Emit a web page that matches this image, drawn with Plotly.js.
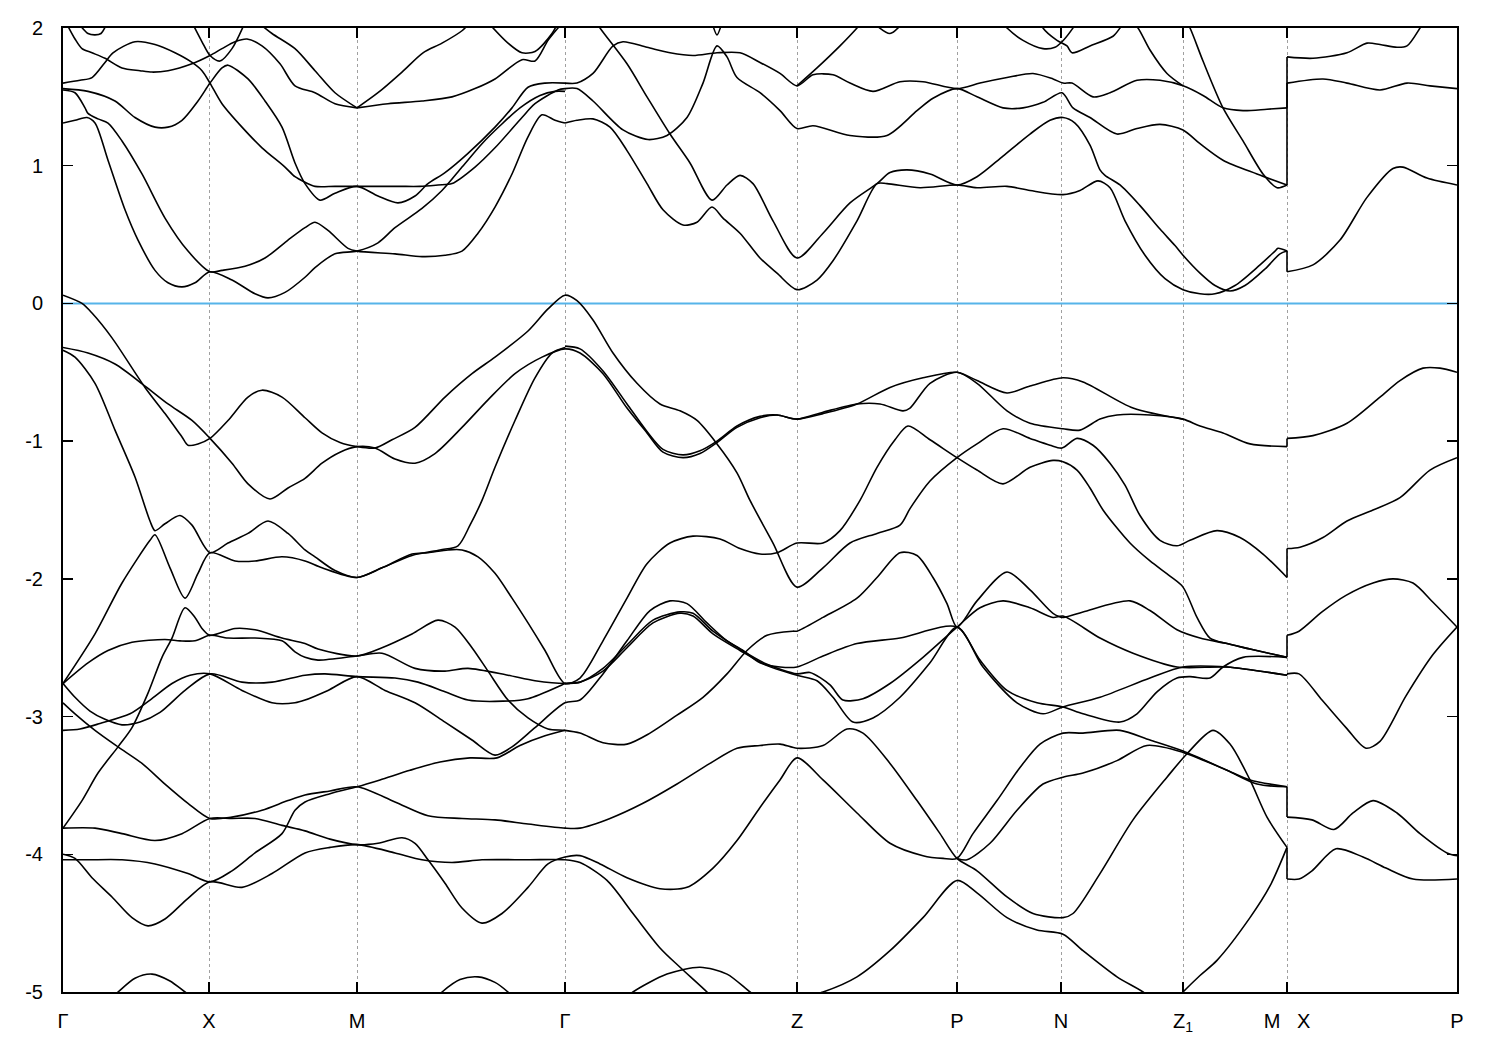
<!DOCTYPE html>
<html><head><meta charset="utf-8">
<script src="https://cdn.plot.ly/plotly-3.0.1.min.js"></script>
<style>body{margin:0;background:#fff}#plot{width:1500px;height:1050px}</style>
</head><body><div id="plot"></div>
<script>
// high-symmetry path (k in arbitrary path-length units)
const kTicks = [0,146,294,502,734,894,998,1120,1224,1394];
const kLabels = ['Γ','X','M','Γ','Z','P','N','Z<sub>1</sub>','M\u00a0\u00a0\u00a0X','P'];
const eTicks = [2,1,0,-1,-2,-3,-4,-5];
const eLabels = ['2','1','0','-1','-2','-3','-4','-5'];
const fermiE = 0;

// band curves: k-points and energies (eV)
const bandK = [
 [17,25,32,38,43],
 [3,12,19,29,42,59,77,89,105,129,147,159,172,184,199,217,232,252,272,294],
 [129,139,147,157,169,182],
 [195,209,232,252,272,294],
 [0,17,29,42,50,72,92,112,129,139,147,159,179,199,222,232,242,252,272,294,317,337,357,375,389,412,432,459,472,495,502],
 [0,25,52,72,92,105,119,135,147,159,165,185,202,219,232,242,257,272,294,315,335,352,365,382,405,432,449,465,482,502],
 [0,12,22,25,35,45,59,79,102,125,147,159,182,202,225,242,252,265,285,294,332,359,382,399,415,432,449,465,479,492,502],
 [0,12,24,32,45,62,75,92,105,119,132,147,169,192,205,222,242,252,272,294,315,332,359,379,399,419,437,457,477,492,502],
 [294,315,339,360,379,399,407],
 [294,325,359,389,412,432,459,472,485,495,502],
 [425,445,459,472,489,495],
 [502,514,530,550,560,584,607,630,654,677,697,717,734,750,770,787,810,837,860,894,917,944,970,990,1000,1009,1030,1047,1074,1097,1120,1140,1160,1180,1204,1224,1224,1260,1284,1317,1344,1367,1394],
 [502,514,530,560,585,604,624,640,654,664,674,697,717,734,750,787,824,854,870,894,914,940,960,980,999,1010,1027,1054,1074,1097,1120,1137,1160,1194,1224,1224,1250,1284,1304,1317,1334,1344,1357,1362],
 [649,654,659],
 [502,514,530,547,564,584,600,620,634,649,660,677,697,714,734,754,770,794,814,824,857,894,914,944,967,1000,1017,1035,1047,1062,1082,1102,1120,1137,1152,1172,1197,1212,1215,1224,1224,1250,1277,1304,1330,1340,1364,1394],
 [529,537,564,584,607,627,649,664,677,690,710,734,760,787,814,827,844,867,894,914,940,967,987,1000,1012,1027,1037,1042,1057,1077,1097,1112,1120,1137,1152,1167,1182,1202,1217,1224],
 [734,754,777,794,802],
 [810,827,840],
 [937,944,960,980,992,999,1009,1015],
 [977,980,994,1004,1009,1027,1050,1057,1062],
 [1067,1075,1087,1104,1120],
 [1120,1127,1140,1160,1180,1200,1214,1224],
 // valence
 [0,19,29,49,82,102,119,125,135,147,165,185,199,219,242,259,277,294,312,329,352,382,409,432,465,485,502,514,530,550,574,597,617,634,654,674,687,710,734,760,787,814,837,847,867,894,914,940,967,987,999,1014,1030,1047,1062,1077,1097,1114,1127,1154,1177,1200,1224,1224,1237,1260,1284,1310,1337,1367,1394],
 [0,25,52,82,105,129,147,169,185,207,225,242,259,277,294,312,332,352,372,399,425,452,479,502,517,540,564,584,600,620,637,654,674,697,714,734,760,794,817,840,847,867,894,914,944,967,1000,1017,1037,1054,1087,1120,1137,1160,1187,1224,1224,1250,1284,1317,1337,1360,1377,1394],
 [502,517,540,564,584,600,620,637,654,674,697,714,734,760,794,827,860,894,914,944,967,1000,1020,1070,1120],
 [0,12,32,52,72,87,92,102,117,129,147,165,185,205,225,242,252,272,294,319,349,377,395,407,419,432,452,472,489,502],
 [0,32,59,87,92,107,122,135,147,172,192,219,242,259,294,319,349,365,385,399,415,432,449,465,482,502,517,540,564,584,607,630,657,677,697,714,734,760,777,797,814,832,845,867,894,914,940,967,990,1000,1014,1027,1040,1067,1087,1107,1120,1134,1147,1164,1187,1224,1224,1236,1259,1283,1310,1330,1350,1370,1394],
 [0,19,35,55,69,85,99,109,122,132,139,147,172,192,219,242,255,294,319,349,375,392,409,425,445,465,485,502,517,540,564,587,614,640,664,684,704,730,734,760,794,814,837,854,870,884,894,914,944,967,990,1000,1020,1067,1087,1114,1137,1164,1187,1224],
 [0,25,45,69,102,117,132,147,165,192,219,232,242,255,294,319,352,382,405,445,472,502,517,540,564,590,617,630,650,677,704,734,754,770,790,810,837,867,894,917,944,974,1000,1020,1057,1074,1094,1114,1127,1147,1160,1180,1224],
 [0,12,27,42,59,77,97,122,147,179,209,242,262,294,332,355,382,405,432,465,499,502,517,540,564,590,617,630,650,677,704,734,747,767,780,800,827,860,894,917,940,967,990,1000,1037,1070,1114,1164,1224,1224,1236,1259,1283,1303,1317,1343,1370,1394],
 [0,17,37,67,87,109,127,147,179,209,232,242,265,294,322,352,382,409,432,449,472,502,517,540,564,587,607,624,644,664,680,697,717,734,760,794,837,894,920,954,980,1000,1037,1087,1120,1164,1224],
 [0,12,32,55,79,102,125,147,169,199,225,242,267,294,332,365,399,432,465,502,517,547,580,614,647,674,697,717,734,760,784,800,827,854,877,894,914,944,970,1000,1010,1037,1070,1104,1124,1150,1167,1187,1204,1224,1224,1236,1249,1273,1300,1323,1350,1394],
 [0,32,59,92,119,147,169,192,219,242,267,294,315,339,352,365,382,399,419,439,465,485,502,517,537,564,597,624,650,674,697,717,734,760,794,827,860,880,894,910,934,957,977,1000,1020,1057,1087,1120,1164,1194,1224,1224,1249,1271,1290,1310,1334,1357,1384,1394],
 [0,12,29,49,69,85,102,125,147,179,209,242,267,294,332,359,389,419,465,502,517,544,570,597,617,644,657],
 [0,25,59,92,125,147,169,192,219,232,242,267,294,317,347,377,407,434,457,482,502],
 [727,760,794,827,860,894,914,944,974,1000,1020,1054,1080,1097],
 [894,904,927,954,980,1000,1020,1054,1084,1120,1164,1187,1224],
 [1107,1120,1137,1154,1187,1207,1224],
 [47,55,72,89,107,122,132],
 [372,379,397,415,432,445,452],
 [562,570,604,637,664,687,697]
];
const bandE = [
 [2.02,1.96,1.95,1.96,2.02],
 [2.04,1.92,1.85,1.82,1.78,1.71,1.69,1.68,1.69,1.74,1.80,1.85,1.90,1.92,1.87,1.74,1.58,1.53,1.45,1.42],
 [2.04,1.90,1.80,1.76,1.85,2.04],
 [2.04,1.96,1.85,1.69,1.53,1.42],
 [1.60,1.62,1.64,1.75,1.82,1.90,1.88,1.82,1.75,1.69,1.60,1.45,1.28,1.13,0.99,0.92,0.88,0.85,0.85,0.85,0.85,0.85,0.85,0.86,0.87,0.99,1.13,1.35,1.45,1.55,1.56],
 [1.56,1.54,1.47,1.35,1.28,1.28,1.33,1.47,1.60,1.71,1.73,1.63,1.47,1.28,1.02,0.87,0.75,0.80,0.85,0.78,0.73,0.78,0.87,0.95,1.09,1.28,1.42,1.57,1.60,1.60],
 [1.55,1.53,1.42,1.38,1.34,1.31,1.18,0.94,0.62,0.38,0.23,0.24,0.27,0.33,0.46,0.55,0.59,0.53,0.40,0.38,0.36,0.34,0.35,0.38,0.51,0.70,0.94,1.21,1.37,1.33,1.31],
 [1.31,1.33,1.35,1.31,1.04,0.68,0.46,0.24,0.15,0.12,0.15,0.23,0.17,0.07,0.04,0.08,0.19,0.26,0.36,0.38,0.44,0.55,0.69,0.82,0.99,1.16,1.29,1.42,1.51,1.54,1.54],
 [1.42,1.53,1.68,1.82,1.89,1.98,2.04],
 [1.42,1.45,1.47,1.50,1.56,1.63,1.77,1.76,1.91,2.00,2.06],
 [2.04,1.89,1.82,1.83,1.96,2.04],
 [1.60,1.60,1.67,1.87,1.90,1.86,1.82,1.80,1.82,1.82,1.75,1.67,1.58,1.66,1.66,1.60,1.54,1.61,1.61,1.56,1.60,1.64,1.67,1.63,1.60,1.60,1.50,1.53,1.62,1.62,1.58,1.51,1.42,1.40,1.41,1.42,1.60,1.63,1.60,1.55,1.60,1.58,1.56],
 [1.56,1.56,1.47,1.26,1.19,1.22,1.35,1.60,1.87,1.79,1.64,1.53,1.40,1.27,1.29,1.22,1.22,1.40,1.49,1.56,1.50,1.42,1.42,1.46,1.53,1.42,1.35,1.23,1.27,1.30,1.26,1.16,1.04,0.94,0.86,1.79,1.78,1.82,1.89,1.88,1.86,1.87,2.00,2.06],
 [2.04,1.95,2.04],
 [1.31,1.33,1.34,1.28,1.11,0.87,0.68,0.57,0.59,0.70,0.62,0.51,0.33,0.22,0.10,0.17,0.31,0.60,0.87,0.87,0.84,0.86,0.84,0.85,0.82,0.79,0.82,0.89,0.84,0.60,0.35,0.18,0.10,0.07,0.07,0.13,0.28,0.38,0.40,0.38,0.23,0.28,0.46,0.77,0.98,0.99,0.91,0.86],
 [2.09,2.00,1.74,1.50,1.23,1.02,0.75,0.86,0.93,0.87,0.60,0.33,0.51,0.73,0.87,0.95,0.97,0.94,0.86,0.92,1.07,1.23,1.33,1.35,1.31,1.15,0.97,0.93,0.86,0.71,0.54,0.42,0.35,0.22,0.13,0.09,0.13,0.25,0.36,0.38],
 [1.58,1.71,1.87,2.00,2.07],
 [2.04,1.96,2.04],
 [2.06,2.00,1.91,1.85,1.86,1.90,1.99,2.06],
 [2.06,2.00,1.91,1.87,1.82,1.87,1.94,2.00,2.06],
 [2.06,2.00,1.84,1.67,1.58],
 [2.09,2.00,1.76,1.42,1.18,0.94,0.84,0.86],
 // valence
 [0.06,0.00,-0.07,-0.25,-0.61,-0.80,-0.97,-1.03,-1.02,-0.98,-0.85,-0.68,-0.63,-0.68,-0.83,-0.94,-1.01,-1.04,-1.05,-0.99,-0.90,-0.68,-0.51,-0.39,-0.20,-0.04,0.06,0.02,-0.12,-0.36,-0.58,-0.73,-0.78,-0.85,-1.02,-1.23,-1.43,-1.74,-2.06,-1.92,-1.74,-1.67,-1.61,-1.49,-1.29,-1.12,-1.02,-0.91,-0.98,-1.03,-1.05,-0.98,-1.03,-1.16,-1.32,-1.54,-1.72,-1.76,-1.72,-1.65,-1.70,-1.82,-1.99,-1.78,-1.77,-1.70,-1.58,-1.50,-1.41,-1.21,-1.12],
 [-0.32,-0.36,-0.44,-0.60,-0.73,-0.85,-0.98,-1.16,-1.31,-1.42,-1.34,-1.27,-1.16,-1.08,-1.04,-1.05,-1.13,-1.16,-1.09,-0.90,-0.70,-0.51,-0.39,-0.33,-0.36,-0.51,-0.76,-0.94,-1.08,-1.12,-1.09,-1.01,-0.90,-0.83,-0.81,-0.84,-0.79,-0.73,-0.73,-0.78,-0.76,-0.58,-0.50,-0.58,-0.78,-0.87,-0.91,-0.92,-0.84,-0.81,-0.81,-0.84,-0.89,-0.94,-1.02,-1.04,-0.98,-0.96,-0.87,-0.68,-0.56,-0.47,-0.47,-0.50],
 [-0.31,-0.33,-0.49,-0.73,-0.93,-1.06,-1.10,-1.07,-1.00,-0.89,-0.82,-0.81,-0.84,-0.80,-0.73,-0.61,-0.54,-0.50,-0.56,-0.65,-0.60,-0.54,-0.57,-0.76,-0.84],
 [-0.34,-0.39,-0.58,-0.92,-1.26,-1.58,-1.65,-1.60,-1.54,-1.61,-1.81,-1.74,-1.67,-1.58,-1.67,-1.79,-1.84,-1.94,-1.99,-1.92,-1.83,-1.79,-1.76,-1.61,-1.43,-1.19,-0.85,-0.54,-0.36,-0.32],
 [-2.76,-2.40,-2.03,-1.72,-1.68,-1.92,-2.14,-1.96,-1.81,-1.87,-1.87,-1.84,-1.87,-1.92,-1.99,-1.92,-1.82,-1.81,-1.79,-1.79,-1.84,-1.96,-2.14,-2.32,-2.52,-2.76,-2.72,-2.45,-2.14,-1.89,-1.74,-1.69,-1.71,-1.78,-1.82,-1.81,-1.74,-1.74,-1.65,-1.43,-1.19,-0.99,-0.89,-0.99,-1.12,-1.21,-1.31,-1.19,-1.14,-1.15,-1.21,-1.34,-1.50,-1.74,-1.87,-1.98,-2.06,-2.28,-2.43,-2.47,-2.51,-2.57,-2.41,-2.38,-2.24,-2.12,-2.03,-2.00,-2.03,-2.17,-2.35],
 [-3.81,-3.61,-3.41,-3.22,-3.08,-2.83,-2.57,-2.43,-2.21,-2.28,-2.36,-2.41,-2.36,-2.37,-2.43,-2.47,-2.51,-2.56,-2.50,-2.40,-2.30,-2.35,-2.50,-2.67,-2.88,-3.01,-3.09,-3.10,-3.12,-3.19,-3.20,-3.12,-2.99,-2.86,-2.69,-2.52,-2.41,-2.38,-2.38,-2.28,-2.14,-1.99,-1.81,-1.83,-1.99,-2.18,-2.35,-2.16,-1.95,-2.08,-2.25,-2.28,-2.24,-2.16,-2.23,-2.37,-2.43,-2.47,-2.51,-2.57],
 [-2.76,-2.61,-2.52,-2.46,-2.44,-2.45,-2.45,-2.41,-2.43,-2.43,-2.45,-2.53,-2.57,-2.59,-2.56,-2.54,-2.65,-2.67,-2.65,-2.70,-2.74,-2.76,-2.75,-2.67,-2.50,-2.32,-2.25,-2.27,-2.40,-2.52,-2.63,-2.70,-2.74,-2.86,-3.04,-3.01,-2.86,-2.61,-2.35,-2.59,-2.81,-2.90,-2.93,-2.98,-3.04,-2.98,-2.82,-2.72,-2.71,-2.72,-2.64,-2.57,-2.57],
 [-2.76,-2.86,-2.96,-3.02,-3.06,-3.04,-2.97,-2.81,-2.69,-2.75,-2.75,-2.70,-2.69,-2.71,-2.72,-2.75,-2.82,-2.88,-2.89,-2.87,-2.77,-2.76,-2.75,-2.65,-2.48,-2.30,-2.24,-2.25,-2.38,-2.51,-2.62,-2.69,-2.68,-2.77,-2.88,-2.87,-2.76,-2.57,-2.35,-2.21,-2.16,-2.21,-2.28,-2.27,-2.43,-2.54,-2.64,-2.64,-2.70,-2.69,-2.69,-2.88,-3.08,-3.23,-3.18,-2.85,-2.55,-2.35],
 [-3.10,-3.09,-3.05,-2.98,-2.88,-2.76,-2.70,-2.69,-2.81,-2.90,-2.90,-2.88,-2.81,-2.71,-2.81,-2.90,-3.04,-3.17,-3.28,-3.22,-3.08,-2.90,-2.88,-2.69,-2.45,-2.23,-2.16,-2.18,-2.32,-2.45,-2.52,-2.61,-2.64,-2.64,-2.56,-2.47,-2.43,-2.35,-2.64,-2.90,-2.98,-2.93,-2.86,-2.72,-2.64,-2.64,-2.70],
 [-2.90,-2.98,-3.10,-3.22,-3.34,-3.49,-3.63,-3.74,-3.73,-3.68,-3.61,-3.57,-3.54,-3.51,-3.62,-3.72,-3.74,-3.75,-3.78,-3.81,-3.81,-3.74,-3.63,-3.49,-3.34,-3.23,-3.21,-3.20,-3.23,-3.21,-3.09,-3.12,-3.34,-3.61,-3.85,-4.03,-4.12,-4.31,-4.43,-4.46,-4.43,-4.14,-3.75,-3.44,-3.27,-3.10,-3.20,-3.46,-3.73,-3.95,-4.18,-4.18,-4.12,-3.96,-4.02,-4.10,-4.18,-4.18],
 [-3.81,-3.81,-3.85,-3.90,-3.85,-3.74,-3.74,-3.74,-3.79,-3.83,-3.89,-3.93,-3.92,-3.88,-3.92,-4.04,-4.21,-4.39,-4.50,-4.43,-4.24,-4.07,-4.02,-4.01,-4.07,-4.17,-4.25,-4.24,-4.10,-3.90,-3.66,-3.46,-3.30,-3.46,-3.70,-3.92,-4.01,-4.03,-4.03,-3.85,-3.61,-3.37,-3.20,-3.12,-3.12,-3.10,-3.17,-3.25,-3.39,-3.49,-3.51,-3.73,-3.75,-3.82,-3.70,-3.61,-3.70,-3.85,-3.99,-4.01],
 [-4.00,-4.03,-4.17,-4.31,-4.46,-4.52,-4.47,-4.32,-4.20,-4.24,-4.14,-3.99,-3.95,-3.93,-3.99,-4.04,-4.06,-4.04,-4.04,-4.04,-4.06,-4.19,-4.43,-4.68,-4.82,-5.00,-5.10],
 [-4.04,-4.04,-4.04,-4.07,-4.14,-4.20,-4.12,-3.99,-3.85,-3.68,-3.62,-3.56,-3.51,-3.46,-3.39,-3.33,-3.30,-3.30,-3.21,-3.14,-3.10],
 [-5.06,-5.00,-4.89,-4.70,-4.46,-4.19,-4.28,-4.46,-4.55,-4.58,-4.70,-4.89,-5.00,-5.10],
 [-4.03,-4.04,-3.92,-3.68,-3.49,-3.44,-3.41,-3.32,-3.21,-3.26,-3.39,-3.46,-3.51],
 [-5.10,-5.00,-4.88,-4.77,-4.46,-4.23,-3.95],
 [-5.05,-5.00,-4.90,-4.87,-4.92,-5.00,-5.05],
 [-5.05,-5.00,-4.91,-4.89,-4.93,-5.00,-5.05],
 [-5.05,-5.00,-4.87,-4.82,-4.87,-5.00,-5.05]
];

const kMax = kTicks[kTicks.length-1];
const traces = [];
traces.push({x:[0,kMax], y:[fermiE,fermiE], mode:'lines', line:{color:'#56b4e9', width:2}, hoverinfo:'skip'});
function addLine(xs, ys, shape){
  traces.push({x:xs, y:ys, mode:'lines', line:{color:'#000', width:1.6, shape:shape, smoothing:0.8}, hoverinfo:'skip'});
}
bandK.forEach((ks,i)=>{
  const es = bandE[i];
  let sk=[ks[0]], se=[es[0]];
  for (let j=1;j<ks.length;j++){
    if (ks[j]===ks[j-1]) {
      if (sk.length>1) addLine(sk,se,'spline');
      addLine([ks[j-1],ks[j]],[es[j-1],es[j]],'linear');
      sk=[ks[j]]; se=[es[j]];
    } else { sk.push(ks[j]); se.push(es[j]); }
  }
  if (sk.length>1) addLine(sk,se,'spline');
});

const axisCommon = {ticks:'inside', ticklen:10, tickwidth:1.5, tickcolor:'#000', mirror:'ticks', showline:true, linecolor:'#000', linewidth:2, zeroline:false, fixedrange:true, ticklabelstandoff:10, tickfont:{size:20, color:'#000'}};
const layout = {
  width:1500, height:1050,
  margin:{l:63, r:43, t:28, b:58},
  paper_bgcolor:'#fff', plot_bgcolor:'#fff',
  showlegend:false,
  font:{family:'Liberation Sans, Arial, sans-serif', size:20, color:'#000'},
  xaxis:Object.assign({}, axisCommon, {range:[0,kMax], tickvals:kTicks, ticktext:kLabels, showgrid:true, gridcolor:'#a0a0a0', griddash:'3px,3px', gridwidth:1}),
  yaxis:Object.assign({}, axisCommon, {range:[-5,2], tickvals:eTicks, ticktext:eLabels, showgrid:false, ticklabelstandoff:14})
};
Plotly.newPlot('plot', traces, layout, {staticPlot:true, displayModeBar:false});
</script>
</body></html>
